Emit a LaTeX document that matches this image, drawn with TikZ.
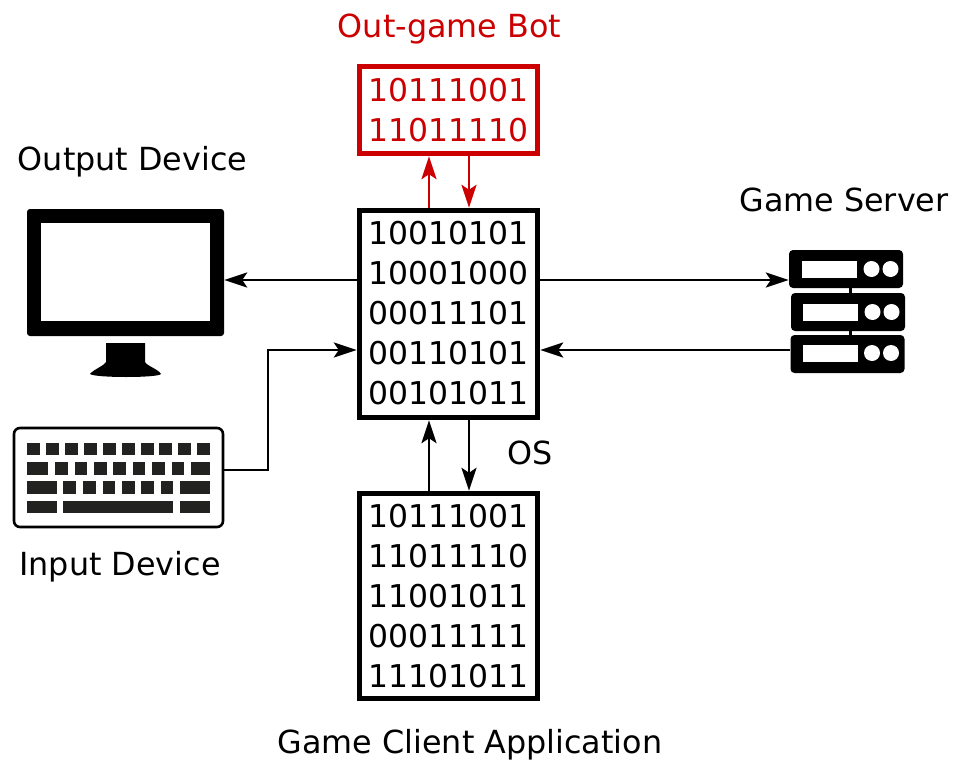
\documentclass[tikz,border=0pt]{standalone}
\usepackage{fontspec}
\setmainfont{DejaVu Sans}
\usetikzlibrary{arrows.meta}
\definecolor{botred}{HTML}{CC0000}
\definecolor{keycap}{HTML}{222220}
\tikzset{
        x=1pt, y=-1pt, % one unit is one pixel of the reference
        font=\fontsize{31.4}{40}\selectfont,
        link/.style={draw, line width=2.8pt, -{Stealth[length=23pt,width=15pt,inset=5pt]}}, % every connector
        codebox/.style={draw, line width=5.4pt, fill=white, align=center, inner sep=0pt, minimum width=178pt}, % boxes of binary digits
        rack/.style={fill=black, rounded corners=4pt, minimum width=114pt, minimum height=38pt, inner sep=0pt}, % one server unit
        caption/.style={inner sep=0pt, font=\fontsize{31.8}{40}\selectfont},
    }

\begin{document}
\begin{tikzpicture}
    \useasboundingbox (0,0) rectangle (960,770);

    \node[codebox, minimum height=207pt, text depth=3pt] (main) at (448.5,314)
        {10010101\\10001000\\00011101\\00110101\\00101011};
    \node[codebox, draw=botred, text=botred, minimum height=87pt, above of=main, node distance=204pt] (bot)
        {10111001\\11011110};
    \node[codebox, minimum height=205pt, below of=main, node distance=282pt] (client)
        {10111001\\11011110\\11001011\\00011111\\11101011};

    \node[caption, text=botred, above of=bot, node distance=81pt, xshift=1pt] (botlabel) {Out-game Bot};
    \node[caption, below of=client, node distance=149pt, xshift=21.5pt] (clientlabel) {Game Client Application};
    \node[caption] (oslabel) at (530,453) {OS};

    % monitor
    \node[fill=black, rounded corners=3pt, minimum width=197pt, minimum height=127pt, inner sep=0pt] (monitor) at (125.5,272.5) {};
    \fill[white] (41,223) rectangle (210,321);
    \fill (106,343) -- (145,343) -- (145,362) .. controls (147,366) and (158,369) .. (161,374)
        .. controls (158,378) and (95,378) .. (90,374) .. controls (94,369) and (104,366) .. (106,362) -- cycle;
    \node[caption] (outlabel) at (132.5,162) {Output Device};

    % keyboard
    \node[draw, line width=2.6pt, rounded corners=6pt, minimum width=209pt, minimum height=99pt] (keyboard) at (118.5,477.5) {};
    \foreach \xa in {27,46,65,84,103,122,141,159,178,197}
        \fill[keycap] (\xa,443) rectangle (\xa+13,455);
    \foreach \xa/\xb in {27/48,55/68,75/87,94/107,113/126,133/145,152/165,172/184,191/210}
        \fill[keycap] (\xa,462) rectangle (\xb,475);
    \foreach \xa/\xb in {27/57,63/76,83/96,103/115,122/135,141/154,161/173,180/210}
        \fill[keycap] (\xa,481) rectangle (\xb,494);
    \foreach \xa/\xb in {27/57,63/173,180/210}
        \fill[keycap] (\xa,501) rectangle (\xb,513);
    \node[caption] (inlabel) at (120,567) {Input Device};

    % server
    \draw[line width=3pt] (850,285) -- (850,338);
    \node[rack] (srva) at (846,269) {};
    \node[rack] (srvb) at (848,312) {};
    \node[rack] (srvc) at (847.5,354) {};
    \foreach \ya/\xa in {269/802,312/803,353/802.5} {
        \fill[white] (\xa,\ya-8.5) rectangle (\xa+55,\ya+8.5);
        \fill[white] (\xa+69.5,\ya) circle (8pt);
        \fill[white] (\xa+88.5,\ya) circle (8pt);
    }
    \node[caption] (srvlabel) at (844,200) {Game Server};

    % connectors
    \draw[link, botred] ([xshift=-19.5pt]main.north) -- ([xshift=-19.5pt]bot.south);
    \draw[link, botred] ([xshift=20.5pt]bot.south) -- ([xshift=20.5pt]main.north);
    \draw[link] ([xshift=20.5pt]main.south) -- ([xshift=20.5pt]client.north);
    \draw[link] ([xshift=-19.5pt]client.north) -- ([xshift=-19.5pt]main.south);
    \draw[link] ([yshift=34pt]main.west) -- ([yshift=34pt]main.west -| monitor.east);
    \draw[link] ([yshift=34pt]main.east) -- ([yshift=34pt]main.east -| srva.west);
    \draw[link] (srvc.west |- 0,350) -- ([yshift=-36pt]main.east);
    \draw[link] (keyboard.east |- 0,470) -- (268,470) -- (268,350) -- ([yshift=-36pt]main.west);
\end{tikzpicture}
\end{document}
